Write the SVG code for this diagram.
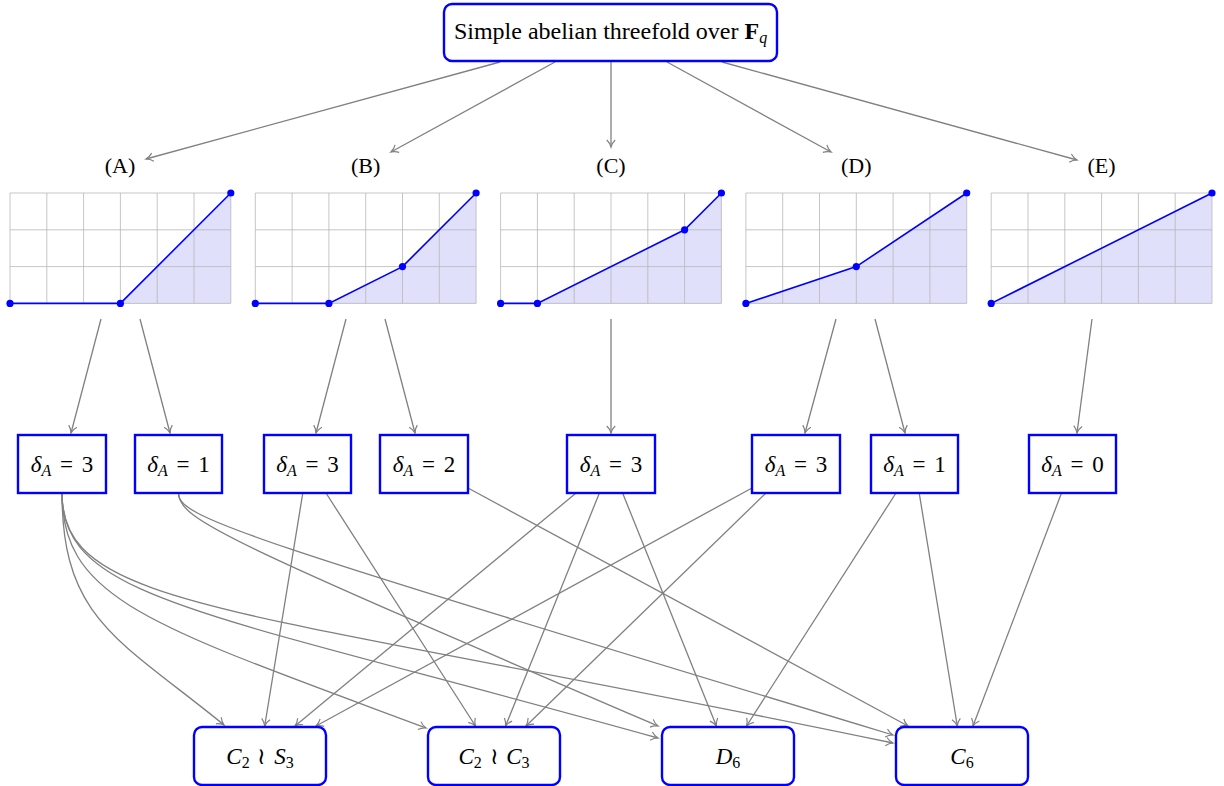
<svg xmlns="http://www.w3.org/2000/svg" xmlns:xlink="http://www.w3.org/1999/xlink" width="1224" height="786" viewBox="0 0 1224 786">
<style>
text{font-family:"Liberation Serif","DejaVu Serif",serif;font-size:23px;fill:#000;text-anchor:middle}
.lbl{font-size:22px}
.ttl{font-size:24px}
.i{font-style:italic}
.b{font-weight:bold}
.sub{font-size:16px}
.box{fill:#fff;stroke:#0000ff;stroke-width:2.4}
.e{fill:none;stroke:#808080;stroke-width:1.3;marker-end:url(#arr)}
.grid line{stroke:#b8b8b8;stroke-width:0.8}
.fillp{fill:#e0e0fb;stroke:none}
.curve{fill:none;stroke:#0000ff;stroke-width:1.6}
.dot{fill:#0000ff}
</style>
<defs>
<marker id="arr" markerUnits="userSpaceOnUse" markerWidth="12" markerHeight="12" viewBox="-9 -6 12 12" refX="0" refY="0" orient="auto">
<path d="M-7,-4.2 C-4.5,-1.6 -1.5,-0.4 0,0 C-1.5,0.4 -4.5,1.6 -7,4.2" fill="none" stroke="#808080" stroke-width="1.2"/>
</marker>
<g id="grid" class="grid">
<line x1="0" y1="0" x2="0" y2="110.4"/><line x1="36.8" y1="0" x2="36.8" y2="110.4"/><line x1="73.6" y1="0" x2="73.6" y2="110.4"/><line x1="110.4" y1="0" x2="110.4" y2="110.4"/><line x1="147.2" y1="0" x2="147.2" y2="110.4"/><line x1="184" y1="0" x2="184" y2="110.4"/><line x1="220.8" y1="0" x2="220.8" y2="110.4"/>
<line x1="0" y1="0" x2="220.8" y2="0"/><line x1="0" y1="36.8" x2="220.8" y2="36.8"/><line x1="0" y1="73.6" x2="220.8" y2="73.6"/><line x1="0" y1="110.4" x2="220.8" y2="110.4"/>
</g>
</defs>
<rect width="1224" height="786" fill="#fff"/>

<g id="edges">
<path class="e" d="M500,62 L146,159"/>
<path class="e" d="M555,62 L391,152"/>
<path class="e" d="M611,62 L611,147"/>
<path class="e" d="M667,62 L831,152"/>
<path class="e" d="M722,62 L1077,160"/>
<path class="e" d="M101,319 L71,433"/>
<path class="e" d="M140,319 L170,433"/>
<path class="e" d="M346,319 L316,433"/>
<path class="e" d="M385,319 L415,433"/>
<path class="e" d="M611,319 L611,433"/>
<path class="e" d="M836,319 L805,433"/>
<path class="e" d="M875,319 L905,433"/>
<path class="e" d="M1092,319 L1077,433"/>
<path class="e" d="M62,493 C62,620 120,640 224,725"/>
<path class="e" d="M62,493 C62,600 150,625 426,728"/>
<path class="e" d="M62,493 C62,600 200,610 658,738"/>
<path class="e" d="M62,493 C62,610 230,605 893,743"/>
<path class="e" d="M178.5,493 C178.5,520 230,542 658,726"/>
<path class="e" d="M178.5,493 C178.5,518 240,537 893,735"/>
<path class="e" d="M302.8,493 L264.7,726"/>
<path class="e" d="M326,493 L475.5,726"/>
<path class="e" d="M468,488 L908,726"/>
<path class="e" d="M576.1,493 L295,726"/>
<path class="e" d="M599.4,493 L505.6,726"/>
<path class="e" d="M622.6,493 L716.4,726"/>
<path class="e" d="M752,488 L316,726"/>
<path class="e" d="M766,493 L526,726"/>
<path class="e" d="M896,493 L746.5,726"/>
<path class="e" d="M919.2,493 L957.3,726"/>
<path class="e" d="M1061.5,493 L973,726"/>
</g>

<g id="top">
<rect class="box" x="444" y="4" width="333" height="57" rx="8"/>
<text class="ttl" x="610.5" y="39">Simple abelian threefold over <tspan class="b">F</tspan><tspan class="i sub" dy="4">q</tspan></text>
</g>

<g id="caseA">
<text class="lbl" x="120" y="173">(A)</text>
<g transform="translate(10,193)">
<polygon class="fillp" points="110.4,110.4 220.8,0 220.8,110.4"/>
<use xlink:href="#grid"/>
<polyline class="curve" points="0,110.4 110.4,110.4 220.8,0"/>
<circle class="dot" cx="0" cy="110.4" r="3.6"/><circle class="dot" cx="110.4" cy="110.4" r="3.6"/><circle class="dot" cx="220.8" cy="0" r="3.6"/>
</g>
</g>
<g id="caseB">
<text class="lbl" x="365.7" y="173">(B)</text>
<g transform="translate(255.3,193)">
<polygon class="fillp" points="73.6,110.4 147.2,73.6 220.8,0 220.8,110.4"/>
<use xlink:href="#grid"/>
<polyline class="curve" points="0,110.4 73.6,110.4 147.2,73.6 220.8,0"/>
<circle class="dot" cx="0" cy="110.4" r="3.6"/><circle class="dot" cx="73.6" cy="110.4" r="3.6"/><circle class="dot" cx="147.2" cy="73.6" r="3.6"/><circle class="dot" cx="220.8" cy="0" r="3.6"/>
</g>
</g>
<g id="caseC">
<text class="lbl" x="611" y="173">(C)</text>
<g transform="translate(500.6,193)">
<polygon class="fillp" points="36.8,110.4 184,36.8 220.8,0 220.8,110.4"/>
<use xlink:href="#grid"/>
<polyline class="curve" points="0,110.4 36.8,110.4 184,36.8 220.8,0"/>
<circle class="dot" cx="0" cy="110.4" r="3.6"/><circle class="dot" cx="36.8" cy="110.4" r="3.6"/><circle class="dot" cx="184" cy="36.8" r="3.6"/><circle class="dot" cx="220.8" cy="0" r="3.6"/>
</g>
</g>
<g id="caseD">
<text class="lbl" x="856.3" y="173">(D)</text>
<g transform="translate(745.9,193)">
<polygon class="fillp" points="0,110.4 110.4,73.6 220.8,0 220.8,110.4"/>
<use xlink:href="#grid"/>
<polyline class="curve" points="0,110.4 110.4,73.6 220.8,0"/>
<circle class="dot" cx="0" cy="110.4" r="3.6"/><circle class="dot" cx="110.4" cy="73.6" r="3.6"/><circle class="dot" cx="220.8" cy="0" r="3.6"/>
</g>
</g>
<g id="caseE">
<text class="lbl" x="1101.6" y="173">(E)</text>
<g transform="translate(991.2,193)">
<polygon class="fillp" points="0,110.4 220.8,0 220.8,110.4"/>
<use xlink:href="#grid"/>
<polyline class="curve" points="0,110.4 220.8,0"/>
<circle class="dot" cx="0" cy="110.4" r="3.6"/><circle class="dot" cx="220.8" cy="0" r="3.6"/>
</g>
</g>

<g id="dA1"><rect class="box" x="18" y="435" width="88" height="58"/><text x="62" y="472"><tspan class="i">δ</tspan><tspan class="i sub" dy="4">A</tspan><tspan dy="-4" dx="3"> =</tspan><tspan dx="3"> 3</tspan></text></g>
<g id="dA2"><rect class="box" x="135" y="435" width="87" height="58"/><text x="178.5" y="472"><tspan class="i">δ</tspan><tspan class="i sub" dy="4">A</tspan><tspan dy="-4" dx="3"> =</tspan><tspan dx="3"> 1</tspan></text></g>
<g id="dB1"><rect class="box" x="264" y="435" width="87" height="58"/><text x="307.5" y="472"><tspan class="i">δ</tspan><tspan class="i sub" dy="4">A</tspan><tspan dy="-4" dx="3"> =</tspan><tspan dx="3"> 3</tspan></text></g>
<g id="dB2"><rect class="box" x="380" y="435" width="88" height="58"/><text x="424" y="472"><tspan class="i">δ</tspan><tspan class="i sub" dy="4">A</tspan><tspan dy="-4" dx="3"> =</tspan><tspan dx="3"> 2</tspan></text></g>
<g id="dC"><rect class="box" x="567" y="435" width="88" height="58"/><text x="611" y="472"><tspan class="i">δ</tspan><tspan class="i sub" dy="4">A</tspan><tspan dy="-4" dx="3"> =</tspan><tspan dx="3"> 3</tspan></text></g>
<g id="dD1"><rect class="box" x="752" y="435" width="88" height="58"/><text x="796" y="472"><tspan class="i">δ</tspan><tspan class="i sub" dy="4">A</tspan><tspan dy="-4" dx="3"> =</tspan><tspan dx="3"> 3</tspan></text></g>
<g id="dD2"><rect class="box" x="871" y="435" width="87" height="58"/><text x="914.5" y="472"><tspan class="i">δ</tspan><tspan class="i sub" dy="4">A</tspan><tspan dy="-4" dx="3"> =</tspan><tspan dx="3"> 1</tspan></text></g>
<g id="dE"><rect class="box" x="1029" y="435" width="87" height="58"/><text x="1072.5" y="472"><tspan class="i">δ</tspan><tspan class="i sub" dy="4">A</tspan><tspan dy="-4" dx="3"> =</tspan><tspan dx="3"> 0</tspan></text></g>

<g id="gC2S3"><rect class="box" x="194" y="727" width="132" height="58" rx="8"/><text x="260" y="764"><tspan class="i">C</tspan><tspan class="sub" dy="4">2</tspan><tspan dy="-4" dx="2"> ≀ </tspan><tspan class="i" dx="2">S</tspan><tspan class="sub" dy="4">3</tspan></text></g>
<g id="gC2C3"><rect class="box" x="428" y="727" width="132" height="58" rx="8"/><text x="494" y="764"><tspan class="i">C</tspan><tspan class="sub" dy="4">2</tspan><tspan dy="-4" dx="2"> ≀ </tspan><tspan class="i" dx="2">C</tspan><tspan class="sub" dy="4">3</tspan></text></g>
<g id="gD6"><rect class="box" x="662" y="727" width="132" height="58" rx="8"/><text x="728" y="764"><tspan class="i">D</tspan><tspan class="sub" dy="4">6</tspan></text></g>
<g id="gC6"><rect class="box" x="896" y="727" width="132" height="58" rx="8"/><text x="962" y="764"><tspan class="i">C</tspan><tspan class="sub" dy="4">6</tspan></text></g>
</svg>
